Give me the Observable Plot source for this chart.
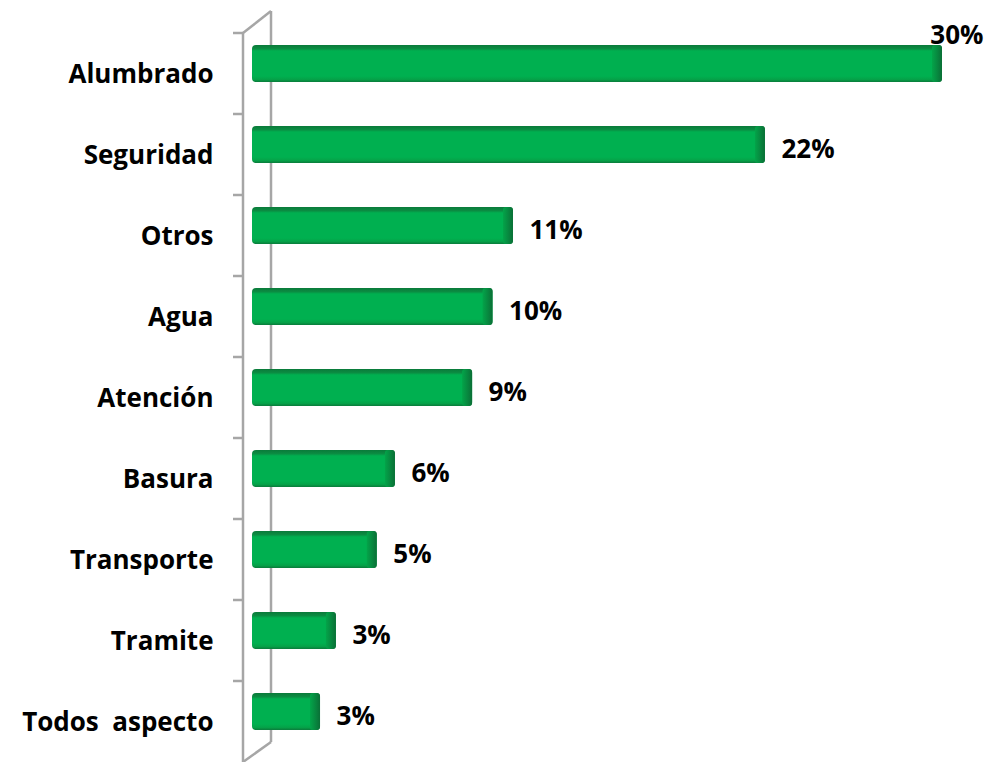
<!DOCTYPE html>
<html><head><meta charset="utf-8">
<script src="https://cdn.jsdelivr.net/npm/d3@7"></script>
<script src="https://cdn.jsdelivr.net/npm/@observablehq/plot@0.6"></script>
<style>body{margin:0;background:#fff;} svg text{white-space:pre;}</style>
</head><body><div id="chart"></div>
<script>
const categories = ["Alumbrado","Seguridad","Otros","Agua","Atención","Basura","Transporte","Tramite","Todos  aspecto"];
const values = [30, 22.2, 11.1, 10.2, 9.3, 5.9, 5.1, 3.3, 2.6];
const data = categories.map((c, i) => ({cat: c, v: values[i]}));
const fmt = v => Math.round(v) + "%";
const depth = 9;
const maxV = d3.max(values);

const plot = Plot.plot({
  width: 986, height: 762,
  marginLeft: 252, marginRight: 53, marginTop: 20, marginBottom: 7,
  style: {fontFamily: "'Open Sans', sans-serif", background: "#fff", overflow: "visible"},
  x: {domain: [0, 30], axis: null},
  y: {domain: categories, padding: 0, axis: null},
  marks: [
    Plot.barX(data, {y: "cat", x: "v", insetTop: 22, insetBottom: 22, insetRight: -depth, fill: "url(#gBar)", rx: 4}),
    Plot.barX(data, {y: "cat", x1: "v", x2: "v", insetTop: 22, insetBottom: 22, insetLeft: -1, insetRight: -depth, fill: "url(#gCap)", rx: 3}),
    Plot.text(categories, {y: d => d, frameAnchor: "left", textAnchor: "end", dx: -39, dy: 11, fontSize: 26, fontWeight: "bold", fill: "#000"}),
    Plot.text(data.filter(d => d.v !== maxV), {y: "cat", x: "v", text: d => fmt(d.v), textAnchor: "start", dx: depth + 16, dy: 5, fontSize: 26, fontWeight: "bold", fill: "#000"}),
    Plot.text(data.filter(d => d.v === maxV), {y: "cat", x: "v", text: d => fmt(d.v), textAnchor: "end", dx: 50, dy: -28, fontSize: 26, fontWeight: "bold", fill: "#000"})
  ]
});

const svg = d3.select(plot);
const defs = svg.insert("defs", ":first-child");
const g1 = defs.append("linearGradient").attr("id", "gBar").attr("x1", 0).attr("y1", 0).attr("x2", 0).attr("y2", 1);
[[0, "#0a7a3a"], [0.1, "#0b8c42"], [0.16, "#00b050"], [0.84, "#00b050"], [0.93, "#05a248"], [1, "#0a7b3b"]]
  .forEach(([o, c]) => g1.append("stop").attr("offset", o).attr("stop-color", c));
const g2 = defs.append("linearGradient").attr("id", "gCap").attr("x1", 0).attr("y1", 0).attr("x2", 1).attr("y2", 0);
[[0, "#03a449"], [0.5, "#078a40"], [1, "#0a6f36"]]
  .forEach(([o, c]) => g2.append("stop").attr("offset", o).attr("stop-color", c));

// 3D frame drawn from the scales
const ys = plot.scale("y"), xs = plot.scale("x");
const x0 = xs.apply(0);
const bw = ys.bandwidth;
const yTop = ys.apply(categories[0]);
const yBottom = ys.apply(categories[categories.length - 1]) + bw;
const frame = svg.insert("g", "defs + *").attr("stroke", "#a6a6a6").attr("stroke-width", 2.5).attr("fill", "none");
const front = x0 - 9, back = x0 + 19;
categories.forEach(c => {
  const yy = ys.apply(c) + 10;
  frame.append("line").attr("x1", front - 10).attr("x2", front).attr("y1", yy).attr("y2", yy);
});
frame.append("line").attr("x1", front).attr("x2", front).attr("y1", yTop + 10).attr("y2", yBottom + 10);
frame.append("line").attr("x1", back).attr("x2", back).attr("y1", yTop - 12).attr("y2", yBottom - 10);
frame.append("line").attr("x1", front).attr("x2", back).attr("y1", yTop + 10).attr("y2", yTop - 12);
frame.append("line").attr("x1", front).attr("x2", back).attr("y1", yBottom + 10).attr("y2", yBottom - 10);

document.getElementById("chart").appendChild(plot);
</script>
</body></html>
